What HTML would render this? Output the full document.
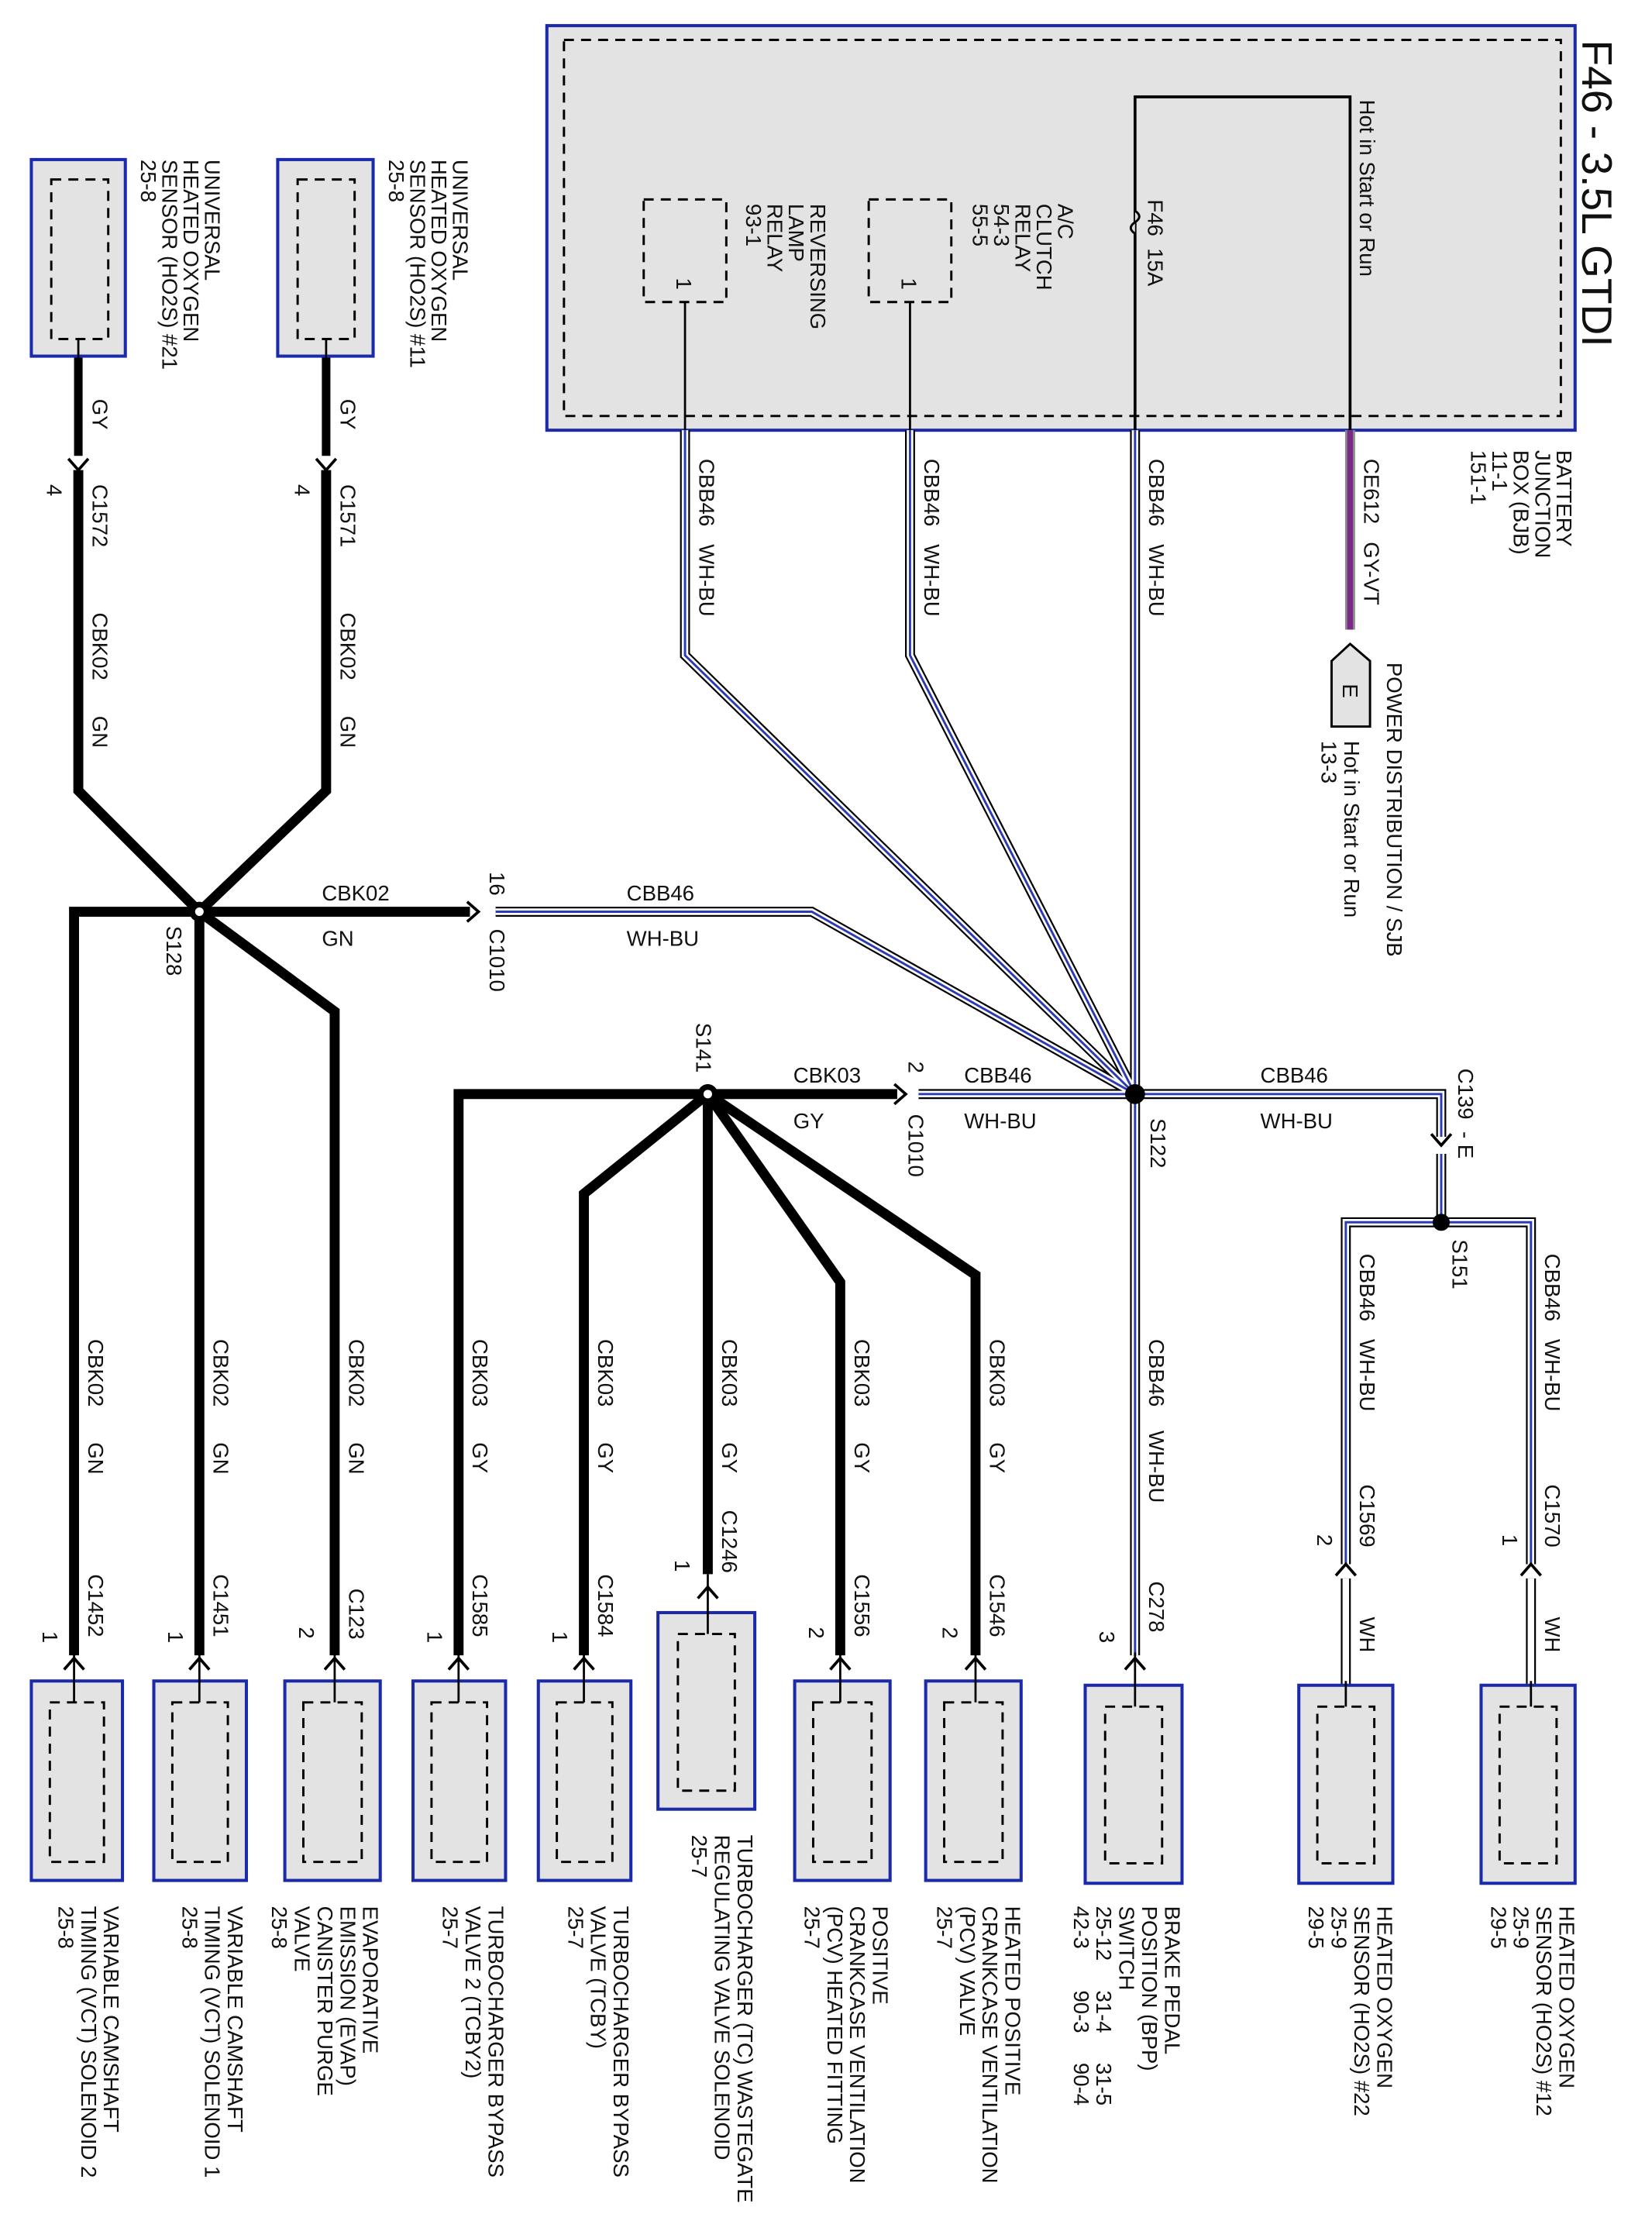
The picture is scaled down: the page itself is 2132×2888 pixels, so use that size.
<!DOCTYPE html>
<html><head><meta charset="utf-8">
<style>
html,body{margin:0;padding:0;background:#fff;}
svg{display:block;}
text{font-family:"Liberation Sans",sans-serif;font-size:15px;fill:#111;white-space:pre;}
.bk{stroke:#000;stroke-width:7;fill:none;stroke-linejoin:miter;}
.dA{stroke:#000;stroke-width:7;fill:none;}
.dB{stroke:#fff;stroke-width:4.6;fill:none;}
.dC{stroke:#2b3bb5;stroke-width:1.6;fill:none;}
.thin{stroke:#000;stroke-width:1.5;fill:none;}
.box{fill:#e3e3e3;stroke:#1a2aa8;stroke-width:2.2;}
.dash{fill:none;stroke:#000;stroke-width:1.6;stroke-dasharray:7,5;}
.chev{stroke:#000;stroke-width:2;fill:none;}
</style></head>
<body>
<svg width="2132" height="2888" viewBox="0 0 1160 1571" preserveAspectRatio="none" xmlns="http://www.w3.org/2000/svg" xml:space="preserve">
<defs>
<polyline id="d1" points="481,302 481,460 797,768"/>
<polyline id="d2" points="639,302 639,460 797,768"/>
<polyline id="d3" points="797,302 797,1162"/>
<polyline id="d4" points="348,640 570,640 797,768"/>
<polyline id="d5" points="645,768 1012,768 1012,798"/>
<polyline id="d6" points="1012,810 1012,858 945,858 945,1098"/>
<polyline id="d7" points="1012,858 1075,858 1075,1098"/>
<polyline id="w1" points="945,1108 945,1183"/>
<polyline id="w2" points="1075,1108 1075,1183"/>
</defs>

<!-- BJB -->
<rect x="384" y="18" width="722" height="284" class="box"/>
<rect x="396" y="28" width="700" height="264" class="dash"/>
<polyline points="797,302 797,68 948,68 948,302" class="thin" style="stroke-width:2"/>
<path d="M797,148 q6,4 0,8 q-6,4 0,8" fill="#ddd" stroke="#000" stroke-width="1.6"/>
<rect x="452" y="140" width="58" height="72" class="dash"/>
<rect x="610" y="140" width="58" height="72" class="dash"/>
<line x1="481" y1="212" x2="481" y2="302" class="thin"/>
<line x1="639" y1="212" x2="639" y2="302" class="thin"/>
<text transform="translate(1111,28) rotate(90)" style="font-size:30px">F46 - 3.5L GTDI</text>
<text transform="translate(955,70) rotate(90)">Hot in Start or Run</text>
<text transform="translate(806,140) rotate(90)">F46  15A</text>
<g transform="translate(743,143) rotate(90)"><text y="0">A/C</text><text y="15">CLUTCH</text><text y="30">RELAY</text><text y="45">54-3</text><text y="60">55-5</text></g>
<g transform="translate(569,143) rotate(90)"><text y="0">REVERSING</text><text y="15">LAMP</text><text y="30">RELAY</text><text y="45">93-1</text></g>
<text transform="translate(475,195) rotate(90)">1</text>
<text transform="translate(633,195) rotate(90)">1</text>
<g transform="translate(1093,316) rotate(90)"><text y="0">BATTERY</text><text y="15">JUNCTION</text><text y="30">BOX (BJB)</text><text y="45">11-1</text><text y="60">151-1</text></g>

<!-- GY-VT -->
<line x1="948" y1="302" x2="948" y2="442" stroke="#8a8a8a" stroke-width="7"/>
<line x1="948" y1="302" x2="948" y2="442" stroke="#7a2a86" stroke-width="4"/>
<path d="M948,452 L962,464 L962,510 L935,510 L935,464 Z" fill="#e3e3e3" stroke="#000" stroke-width="1.6"/>
<text transform="translate(943,480) rotate(90)">E</text>
<text transform="translate(958,322) rotate(90)">CE612   GY-VT</text>
<text transform="translate(974,465) rotate(90)">POWER DISTRIBUTION / SJB</text>
<text transform="translate(944,520) rotate(90)">Hot in Start or Run</text>
<text transform="translate(928,520) rotate(90)">13-3</text>

<!-- double wires -->
<g>
<use href="#d1" class="dA"/><use href="#d2" class="dA"/><use href="#d3" class="dA"/><use href="#d4" class="dA"/><use href="#d5" class="dA"/><use href="#d6" class="dA"/><use href="#d7" class="dA"/><use href="#w1" class="dA"/><use href="#w2" class="dA"/>
<use href="#d1" class="dB"/><use href="#d2" class="dB"/><use href="#d3" class="dB"/><use href="#d4" class="dB"/><use href="#d5" class="dB"/><use href="#d6" class="dB"/><use href="#d7" class="dB"/><use href="#w1" class="dB"/><use href="#w2" class="dB"/>
<use href="#d1" class="dC"/><use href="#d2" class="dC"/><use href="#d3" class="dC"/><use href="#d4" class="dC"/><use href="#d5" class="dC"/><use href="#d6" class="dC"/><use href="#d7" class="dC"/>
</g>
<text transform="translate(491,322) rotate(90)">CBB46   WH-BU</text>
<text transform="translate(649,322) rotate(90)">CBB46   WH-BU</text>
<text transform="translate(807,322) rotate(90)">CBB46   WH-BU</text>
<text x="440" y="632">CBB46</text><text x="440" y="664">WH-BU</text>
<text x="677" y="760">CBB46</text><text x="677" y="792">WH-BU</text>
<text x="885" y="760">CBB46</text><text x="885" y="792">WH-BU</text>
<text transform="translate(1024,750) rotate(90)">C139  - E</text>
<path d="M1005,796 L1012,804 L1019,796" class="chev"/>
<circle cx="1012" cy="858" r="6" fill="#000"/>
<text transform="translate(1020,870) rotate(90)">S151</text>
<text transform="translate(955,880) rotate(90)">CBB46   WH-BU</text>
<text transform="translate(1085,880) rotate(90)">CBB46   WH-BU</text>
<text transform="translate(955,1042) rotate(90)">C1569</text>
<text transform="translate(1085,1042) rotate(90)">C1570</text>
<text transform="translate(925,1077) rotate(90)">2</text>
<text transform="translate(1055,1077) rotate(90)">1</text>
<path d="M938,1106 L945,1098 L952,1106" class="chev"/>
<path d="M1068,1106 L1075,1098 L1082,1106" class="chev"/>
<text transform="translate(955,1135) rotate(90)">WH</text>
<text transform="translate(1085,1135) rotate(90)">WH</text>
<circle cx="797" cy="768" r="7" fill="#000"/>
<text transform="translate(808,785) rotate(90)">S122</text>
<text transform="translate(807,940) rotate(90)">CBB46    WH-BU</text>
<text transform="translate(807,1110) rotate(90)">C278</text>
<text transform="translate(772,1145) rotate(90)">3</text>

<!-- black S128 -->
<polyline points="330,640 52,640 52,1162" class="bk"/>
<polyline points="140,640 140,1162" class="bk"/>
<polyline points="140,640 235,710 235,1162" class="bk"/>
<polyline points="140,640 55,555 55,330" class="bk"/>
<polyline points="140,640 229,555 229,330" class="bk"/>
<line x1="55" y1="250" x2="55" y2="320" stroke="#000" stroke-width="6"/>
<line x1="229" y1="250" x2="229" y2="320" stroke="#000" stroke-width="6"/>
<path d="M48,322 L55,330 L62,322" class="chev"/>
<path d="M222,322 L229,330 L236,322" class="chev"/>
<path d="M328,633 L336,640 L328,647" class="chev"/>
<circle cx="140" cy="640" r="7" fill="#000"/><circle cx="140" cy="640" r="3" fill="#fff"/>
<text transform="translate(117,650) rotate(90)">S128</text>
<text x="226" y="632">CBK02</text><text x="226" y="664">GN</text>
<text transform="translate(344,612) rotate(90)">16</text>
<text transform="translate(344,652) rotate(90)">C1010</text>
<text transform="translate(65,280) rotate(90)">GY</text>
<text transform="translate(239,280) rotate(90)">GY</text>
<text transform="translate(65,340) rotate(90)">C1572</text>
<text transform="translate(239,340) rotate(90)">C1571</text>
<text transform="translate(33,340) rotate(90)">4</text>
<text transform="translate(207,340) rotate(90)">4</text>
<text transform="translate(65,430) rotate(90)">CBK02      GN</text>
<text transform="translate(239,430) rotate(90)">CBK02      GN</text>
<rect x="22" y="112" width="66" height="138" class="box"/>
<rect x="36" y="126" width="40" height="112" class="dash"/>
<rect x="195" y="112" width="67" height="138" class="box"/>
<rect x="209" y="126" width="40" height="112" class="dash"/>
<line x1="55" y1="238" x2="55" y2="252" class="thin"/>
<line x1="229" y1="238" x2="229" y2="252" class="thin"/>
<g transform="translate(144,112) rotate(90)"><text y="0">UNIVERSAL</text><text y="15">HEATED OXYGEN</text><text y="30">SENSOR (HO2S) #21</text><text y="45">25-8</text></g>
<g transform="translate(318,112) rotate(90)"><text y="0">UNIVERSAL</text><text y="15">HEATED OXYGEN</text><text y="30">SENSOR (HO2S) #11</text><text y="45">25-8</text></g>

<!-- black S141 -->
<polyline points="630,768 322,768 322,1162" class="bk"/>
<polyline points="497,768 410,838 410,1162" class="bk"/>
<polyline points="497,768 497,1105" class="bk"/>
<polyline points="497,768 590,900 590,1162" class="bk"/>
<polyline points="497,768 685,895 685,1162" class="bk"/>
<path d="M628,761 L636,768 L628,775" class="chev"/>
<circle cx="497" cy="768" r="7" fill="#000"/><circle cx="497" cy="768" r="3" fill="#fff"/>
<text transform="translate(489,718) rotate(90)">S141</text>
<text x="557" y="760">CBK03</text><text x="557" y="792">GY</text>
<text transform="translate(638,745) rotate(90)">2</text>
<text transform="translate(638,782) rotate(90)">C1010</text>

<!-- vertical labels -->
<text transform="translate(62,940) rotate(90)">CBK02      GN</text>
<text transform="translate(150,940) rotate(90)">CBK02      GN</text>
<text transform="translate(245,940) rotate(90)">CBK02      GN</text>
<text transform="translate(332,940) rotate(90)">CBK03      GY</text>
<text transform="translate(420,940) rotate(90)">CBK03      GY</text>
<text transform="translate(507,940) rotate(90)">CBK03      GY</text>
<text transform="translate(600,940) rotate(90)">CBK03      GY</text>
<text transform="translate(695,940) rotate(90)">CBK03      GY</text>
<text transform="translate(62,1105) rotate(90)">C1452</text>
<text transform="translate(150,1105) rotate(90)">C1451</text>
<text transform="translate(245,1115) rotate(90)">C123</text>
<text transform="translate(332,1105) rotate(90)">C1585</text>
<text transform="translate(420,1105) rotate(90)">C1584</text>
<text transform="translate(507,1060) rotate(90)">C1246</text>
<text transform="translate(600,1105) rotate(90)">C1556</text>
<text transform="translate(695,1105) rotate(90)">C1546</text>
<text transform="translate(30,1145) rotate(90)">1</text>
<text transform="translate(118,1145) rotate(90)">1</text>
<text transform="translate(210,1142) rotate(90)">2</text>
<text transform="translate(300,1145) rotate(90)">1</text>
<text transform="translate(388,1145) rotate(90)">1</text>
<text transform="translate(474,1095) rotate(90)">1</text>
<text transform="translate(568,1142) rotate(90)">2</text>
<text transform="translate(662,1142) rotate(90)">2</text>

<!-- bottom connectors & boxes -->
<g>
<rect x="22" y="1180" width="64" height="140" class="box"/><rect x="35" y="1195" width="38" height="112" class="dash"/>
<rect x="108" y="1180" width="65" height="140" class="box"/><rect x="121" y="1195" width="39" height="112" class="dash"/>
<rect x="200" y="1180" width="67" height="140" class="box"/><rect x="213" y="1195" width="41" height="112" class="dash"/>
<rect x="290" y="1180" width="65" height="140" class="box"/><rect x="303" y="1195" width="39" height="112" class="dash"/>
<rect x="378" y="1180" width="65" height="140" class="box"/><rect x="391" y="1195" width="39" height="112" class="dash"/>
<rect x="462" y="1132" width="68" height="138" class="box"/><rect x="476" y="1147" width="40" height="110" class="dash"/>
<rect x="558" y="1180" width="67" height="140" class="box"/><rect x="571" y="1195" width="41" height="112" class="dash"/>
<rect x="650" y="1180" width="67" height="140" class="box"/><rect x="663" y="1195" width="41" height="112" class="dash"/>
<rect x="762" y="1183" width="68" height="139" class="box"/><rect x="776" y="1198" width="40" height="110" class="dash"/>
<rect x="912" y="1183" width="66" height="139" class="box"/><rect x="925" y="1198" width="40" height="110" class="dash"/>
<rect x="1040" y="1183" width="66" height="139" class="box"/><rect x="1053" y="1198" width="40" height="110" class="dash"/>
</g>
<g class="thin">
<line x1="52" y1="1160" x2="52" y2="1195"/><line x1="140" y1="1160" x2="140" y2="1195"/><line x1="235" y1="1160" x2="235" y2="1195"/>
<line x1="322" y1="1160" x2="322" y2="1195"/><line x1="410" y1="1160" x2="410" y2="1195"/><line x1="497" y1="1105" x2="497" y2="1147"/>
<line x1="590" y1="1160" x2="590" y2="1195"/><line x1="685" y1="1160" x2="685" y2="1195"/><line x1="797" y1="1160" x2="797" y2="1198"/>
<line x1="945" y1="1180" x2="945" y2="1198"/><line x1="1075" y1="1180" x2="1075" y2="1198"/>
</g>
<g class="chev">
<path d="M45,1172 L52,1164 L59,1172"/><path d="M133,1172 L140,1164 L147,1172"/><path d="M228,1172 L235,1164 L242,1172"/>
<path d="M315,1172 L322,1164 L329,1172"/><path d="M403,1172 L410,1164 L417,1172"/><path d="M490,1122 L497,1114 L504,1122"/>
<path d="M583,1172 L590,1164 L597,1172"/><path d="M678,1172 L685,1164 L692,1172"/><path d="M790,1172 L797,1164 L804,1172"/>
</g>

<!-- bottom labels -->
<g transform="translate(73,1338) rotate(90)"><text y="0">VARIABLE CAMSHAFT</text><text y="16">TIMING (VCT) SOLENOID 2</text><text y="32">25-8</text></g>
<g transform="translate(160,1338) rotate(90)"><text y="0">VARIABLE CAMSHAFT</text><text y="16">TIMING (VCT) SOLENOID 1</text><text y="32">25-8</text></g>
<g transform="translate(255,1338) rotate(90)"><text y="0">EVAPORATIVE</text><text y="16">EMISSION (EVAP)</text><text y="32">CANISTER PURGE</text><text y="48">VALVE</text><text y="64">25-8</text></g>
<g transform="translate(343,1338) rotate(90)"><text y="0">TURBOCHARGER BYPASS</text><text y="16">VALVE 2 (TCBY2)</text><text y="32">25-7</text></g>
<g transform="translate(431,1338) rotate(90)"><text y="0">TURBOCHARGER BYPASS</text><text y="16">VALVE (TCBY)</text><text y="32">25-7</text></g>
<g transform="translate(518,1288) rotate(90)"><text y="0">TURBOCHARGER (TC) WASTEGATE</text><text y="16">REGULATING VALVE SOLENOID</text><text y="32">25-7</text></g>
<g transform="translate(613,1338) rotate(90)"><text y="0">POSITIVE</text><text y="16">CRANKCASE VENTILATION</text><text y="32">(PCV) HEATED FITTING</text><text y="48">25-7</text></g>
<g transform="translate(706,1338) rotate(90)"><text y="0">HEATED POSITIVE</text><text y="16">CRANKCASE VENTILATION</text><text y="32">(PCV) VALVE</text><text y="48">25-7</text></g>
<g transform="translate(818,1338) rotate(90)"><text y="0">BRAKE PEDAL</text><text y="16">POSITION (BPP)</text><text y="32">SWITCH</text><text y="48">25-12     31-4     31-5</text><text y="64">42-3       90-3     90-4</text></g>
<g transform="translate(967,1338) rotate(90)"><text y="0">HEATED OXYGEN</text><text y="16">SENSOR (HO2S) #22</text><text y="32">25-9</text><text y="48">29-5</text></g>
<g transform="translate(1095,1338) rotate(90)"><text y="0">HEATED OXYGEN</text><text y="16">SENSOR (HO2S) #12</text><text y="32">25-9</text><text y="48">29-5</text></g>
</svg>
</body></html>
